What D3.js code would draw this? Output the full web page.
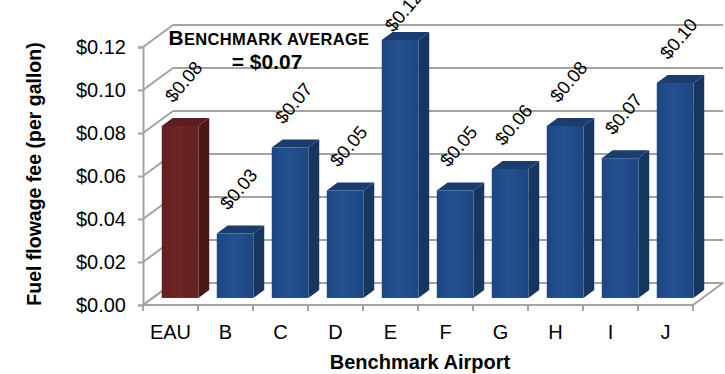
<!DOCTYPE html>
<html>
<head>
<meta charset="utf-8">
<script src="https://cdn.jsdelivr.net/npm/d3@7/dist/d3.min.js"></script>
<style>
  html, body { margin: 0; padding: 0; background: #fff; }
  svg { display: block; font-family: "Liberation Sans", Arial, sans-serif; }
</style>
</head>
<body>
<svg id="chart" width="725" height="374"></svg>
<script>
// Fuel flowage fee per gallon, EAU versus benchmark airports
const airports = ["EAU", "B", "C", "D", "E", "F", "G", "H", "I", "J"];
const fees     = [0.08, 0.03, 0.07, 0.05, 0.12, 0.05, 0.06, 0.08, 0.065, 0.10];
const yTicks   = [0, 0.02, 0.04, 0.06, 0.08, 0.10, 0.12];
const homeAirport = "EAU";

const svg = d3.select("#chart");

// 3D box: front plane of the plot and the offset of the back wall
const front = { left: 143, right: 693, bottom: 305, top: 47 };
const depth = { dx: 30, dy: -22 };
const barDepth = { start: 0.32, end: 0.68 };   // bars sit in the middle of the floor

const x = d3.scaleBand().domain(airports)
  .range([front.left, front.right])
  .paddingInner(1 / 3).paddingOuter(1 / 6);
const y = d3.scaleLinear().domain([0, 0.12]).range([front.bottom, front.top]);
const money = d3.format("$.2f");

const grid = "#a3a3a3";

// Shading for the bar faces
const defs = svg.append("defs");
function faceGradient(id, edge, mid) {
  const g = defs.append("linearGradient").attr("id", id)
    .attr("x1", "0%").attr("x2", "100%").attr("y1", "0%").attr("y2", "0%");
  g.append("stop").attr("offset", "0%").attr("stop-color", edge);
  g.append("stop").attr("offset", "45%").attr("stop-color", mid);
  g.append("stop").attr("offset", "100%").attr("stop-color", edge);
}
faceGradient("blueFront", "#1d4682", "#24518f");
faceGradient("redFront", "#632020", "#6e2525");
const palette = {
  home:  { front: "url(#redFront)",  side: "#4a1717", top: "#5b1d1d" },
  other: { front: "url(#blueFront)", side: "#16355f", top: "#1a3d6d" }
};

// Floor
const floor = [
  [front.left, front.bottom], [front.right, front.bottom],
  [front.right + depth.dx, front.bottom + depth.dy], [front.left + depth.dx, front.bottom + depth.dy]
];
svg.append("polygon").attr("points", floor.map(p => p.join(",")).join(" "))
  .attr("fill", "#fff").attr("stroke", grid).attr("stroke-width", 2)
  .attr("stroke-linejoin", "round");

// Gridlines: diagonals on the side wall, horizontals on the back wall
const gl = svg.append("g").attr("stroke", grid).attr("stroke-width", 2).attr("fill", "none");
gl.selectAll("line.side").data(yTicks).join("line").attr("class", "side")
  .attr("x1", front.left).attr("y1", d => y(d))
  .attr("x2", front.left + depth.dx).attr("y2", d => y(d) + depth.dy);
gl.selectAll("line.back").data(yTicks).join("line").attr("class", "back")
  .attr("x1", front.left + depth.dx).attr("y1", d => y(d) + depth.dy)
  .attr("x2", front.right + depth.dx).attr("y2", d => y(d) + depth.dy);

// Y axis on the front plane
const yAxis = svg.append("g").attr("transform", `translate(${front.left},0)`)
  .call(d3.axisLeft(y).tickValues(yTicks).tickFormat(money).tickSize(5).tickPadding(12));
yAxis.select(".domain").attr("stroke", grid).attr("stroke-width", 2);
yAxis.selectAll(".tick line").attr("stroke", grid).attr("stroke-width", 2);
yAxis.selectAll(".tick text").attr("font-size", 20).attr("fill", "#000")
  .attr("font-family", "Liberation Sans, Arial, sans-serif");

// X axis: ticks between categories, labels centred under each band
const xg = svg.append("g");
const bounds = airports.map((a, i) => front.left + i * x.step()).concat([front.right]);
xg.selectAll("line").data(bounds).join("line")
  .attr("x1", d => d).attr("x2", d => d)
  .attr("y1", front.bottom).attr("y2", front.bottom + 6)
  .attr("stroke", grid).attr("stroke-width", 2);
xg.selectAll("text").data(airports).join("text")
  .attr("x", d => x(d) + x.bandwidth() / 2)
  .attr("y", 338.5)
  .attr("text-anchor", "middle").attr("font-size", 20).attr("fill", "#000")
  .text(d => d);

// 3D columns
const zx0 = depth.dx * barDepth.start, zy0 = depth.dy * barDepth.start;
const zx1 = depth.dx * barDepth.end,   zy1 = depth.dy * barDepth.end;
const bars = svg.append("g").selectAll("g").data(airports.map((a, i) => ({ a, v: fees[i] }))).join("g");
bars.each(function (d) {
  const g = d3.select(this);
  const c = d.a === homeAirport ? palette.home : palette.other;
  const l = x(d.a) + zx0, r = l + x.bandwidth();
  const b = front.bottom + zy0, t = y(d.v) + zy0;
  const ddx = zx1 - zx0, ddy = zy1 - zy0;
  const pts = arr => arr.map(p => p.join(",")).join(" ");
  g.append("polygon").attr("fill", c.side)
    .attr("points", pts([[r, t], [r + ddx, t + ddy], [r + ddx, b + ddy], [r, b]]));
  g.append("polygon").attr("fill", c.top)
    .attr("points", pts([[l, t], [l + ddx, t + ddy], [r + ddx, t + ddy], [r, t]]));
  g.append("rect").attr("fill", c.front)
    .attr("x", l).attr("y", t).attr("width", r - l).attr("height", b - t);
});

// Value labels, rotated, kept inside the chart area
bars.append("text")
  .attr("transform", d => {
    const cx = x(d.a) + x.bandwidth() / 2 + zx0 - 6.5;
    const cy = Math.max(y(d.v) + zy0 - 22.5, 33);
    return `translate(${cx},${cy}) rotate(-50)`;
  })
  .attr("font-size", 18.5).attr("fill", "#000")
  .text(d => money(d.v));

// Benchmark average (all airports except the home one)
const benchAvg = d3.mean(fees.filter((v, i) => airports[i] !== homeAirport));
const note = svg.append("text").attr("x", 269).attr("y", 45)
  .attr("text-anchor", "middle").attr("font-weight", "bold").attr("fill", "#000")
  .attr("letter-spacing", 0.3);
note.append("tspan").attr("font-size", 21).text("B");
note.append("tspan").attr("font-size", 16.5).text("ENCHMARK AVERAGE");
svg.append("text").attr("x", 267).attr("y", 69)
  .attr("text-anchor", "middle").attr("font-weight", "bold").attr("font-size", 21)
  .attr("fill", "#000").text("= " + money(benchAvg));

// Axis titles
svg.append("text").attr("x", 420).attr("y", 369)
  .attr("text-anchor", "middle").attr("font-weight", "bold").attr("font-size", 20)
  .text("Benchmark Airport");
svg.append("text").attr("transform", "translate(41,174) rotate(-90)")
  .attr("text-anchor", "middle").attr("font-weight", "bold").attr("font-size", 19.5)
  .text("Fuel flowage fee (per gallon)");
</script>
</body>
</html>
